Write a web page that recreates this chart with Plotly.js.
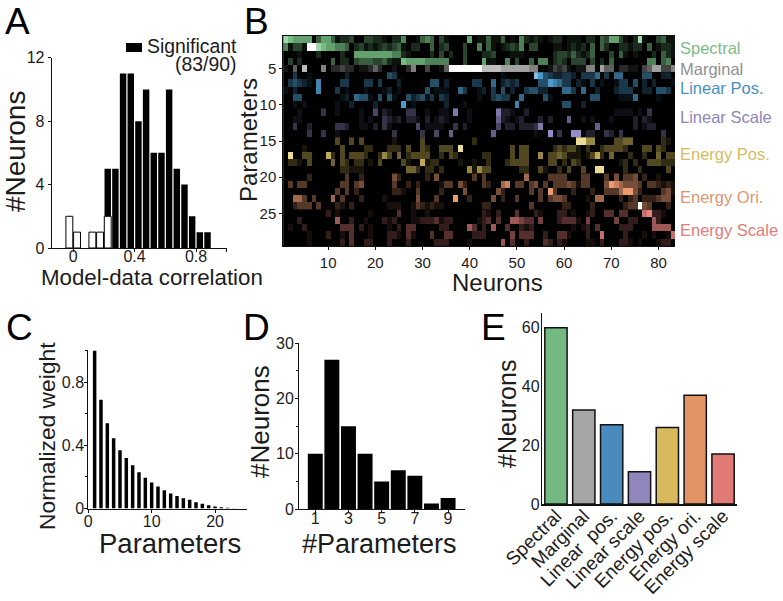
<!DOCTYPE html>
<html><head><meta charset="utf-8">
<script src="https://cdn.plot.ly/plotly-3.0.1.min.js"></script>
<style>html,body{margin:0;padding:0;background:#fff}</style></head>
<body><div id="chart" style="width:783px;height:601px"></div>
<script>
// Panel A
const corrBins=[0.225,0.275,0.325,0.375,0.425,0.475,0.525,0.575,0.625,0.675,0.725,0.775,0.825,0.875];
const corrSig=[5,5,11,11,8,10,6,6,10,5,4,2,1,1];
const corrBinsNS=[-0.025,0.025,0.125,0.175,0.225];
const corrNS=[2,1,1,1,2];
// Panel C
const weightX=[1,2,3,4,5,6,7,8,9,10,11,12,13,14,15,16,17,18,19,20,21,22,23];
const weightY=[1,.69,.54,.445,.37,.32,.275,.23,.195,.165,.14,.115,.095,.08,.065,.055,.04,.03,.02,.012,.008,.005,.002];
// Panel D
const nParams=[1,2,3,4,5,6,7,8,9];
const nParamNeurons=[10,27,15,10,5,7,6,1,2];
// Panel E
const catNames=["Spectral","Marginal","Linear\u00a0\u00a0pos.","Linear scale","Energy pos.","Energy ori.","Energy scale"];
const catCounts=[60,32,27,11,26,37,17];
const catColors=["#74b981","#a5a5a5","#4a8bbd","#9186bc","#d9b95e","#e39467","#e17a75"];
// Panel B: weight level (0-9) per parameter row, per neuron, read in four column blocks
const block1=["876666046641223003322","513319987665540231212","000100020000200666666","030200000040220344433","104070005022322011242","003001000000020000000","034321060000330003303","102000060003010001000","004400000000120544104","001010000001002000020","000100003001000010040","001100000000000010100","003002000003320011020","000003003001000000000","000000000003003030000","000010000000300002200","080033000620303332002","022103000040320220103","000000000000221110000","000002000000030020000","030330000000330340000","000000000003030200000","005530300050300020000","002333030002102000000","000000000201000000100","000200000005002001000","010020000000333020100","000001000200103000100","000001000000203002200"];
const block2=["102250014540310000601","323410220040230003005","665521000020302003000","421176666555550003000","001002500300149999999","043000000000000000000","000200000044020000033","120100000401110053001","041004234130320000001","000070100000020001000","210003300100110600100","321202210201210000100","310000040111100302000","003000003004005000000","001000003000000000020","022203003200333080000","530402333300203200000","000031006122000010010","000004420220200000515","004200000204000000030","003002020000133042000","002210030000200004000","100000040003000700200","011100132121100000000","000300100100000000000","212000112223122000001","010203300000220000530","022103100030033000022","020002000002220000100"];
const block3=["141140105212101220111","041012325033000110121","223000111000000233242","611005030040550232033","777766666655001323101","000010000008743223320","005023230000447653302","203040200344220005530","003433005000041000000","000000060000000004400","000622100200000000000","000521012000202000500","000402202223600000000","005000000001007030077","000000000000000000008","000000303300000232331","220000303300503343111","020002333300003302032","330000002200310020300","300000000500003333000","320056033034030333431","000420000030307300020","004020030000303443000","220000000030000002200","210200030002100022010","230300554330400023331","205003002120000000010","200000403330020033100","000050300200032021000"];
const block4=["02204366310281003411","20404200221220401221","12400030410100020421","30302040000000550450","15506440221103466335","33350305500004400220","10301001330402020001","50020002333002204430","00440000111500001000","20000000000000000000","00000001111010300000","10100010000202100000","00050000000201220000","02200320300000000300","85500003344000000210","02002333320003303200","01362040002002004033","00000000120200333222","30088000020020000030","33000304033402001000","33000476544430332121","00200333577420000341","01055000202302223440","00200000023394300020","01200330330006722100","04000004002200052000","12030000222000055550","02006000020001010016","01102000221010001220"];
// Row ranges of each parameter group (first, last)
const groupRows=[[1,4],[5,5],[6,10],[11,14],[15,19],[20,24],[25,29]];
const groupRgb=[[116,190,130],[190,190,190],[74,155,205],[150,140,200],[225,200,95],[235,155,110],[232,130,125]];
const groupLabels=["Spectral","Marginal","Linear Pos.","Linear Scale","Energy Pos.","Energy Ori.","Energy Scale"];
const groupLabelColors=["#7dbb88","#8f8f8f","#4a8fbc","#8f86b8","#d8bb60","#e09670","#e07d78"];
const labelY=[48,69,88,117,154,197,230];
const levelGain=[0,.1,.22,.36,.5,.68,.85,1];

const W=783,H=601;
const dx=(a,b)=>[a/W,b/W];
const dy=(t,b)=>[1-b/H,1-t/H];
const ink="#1c1c1c";
const tickFont={family:"Liberation Sans, Arial, sans-serif",size:16,color:ink};
const base={showgrid:false,zeroline:false,showline:true,linecolor:"#111",linewidth:1,tickcolor:"#111",tickwidth:1,ticklen:3,ticks:"outside",tickfont:tickFont,automargin:false,fixedrange:true};

const neurons=[];for(let i=1;i<=83;i++)neurons.push(i);
const matrix=block1.map((r,i)=>(r.padEnd(21,"0").slice(0,21)+block2[i].padEnd(21,"0").slice(0,21)+block3[i].padEnd(21,"0").slice(0,21)+block4[i].padEnd(20,"0").slice(0,20)).split("").map(Number));

const data=[];
groupRows.forEach((g,k)=>{
  const rows=[];for(let r=g[0];r<=g[1];r++)rows.push(r);
  const c=groupRgb[k];
  const scale=levelGain.map((f,i)=>[i/9,`rgb(${c.map(v=>Math.round(v*f))})`]);
  scale.push([8/9,`rgb(${c.map(v=>Math.round(v+(255-v)*.35))})`],[1,"rgb(255,255,255)"]);
  data.push({type:"heatmap",xaxis:"x2",yaxis:"y2",x:neurons,y:rows,z:rows.map(r=>matrix[r-1]),zmin:0,zmax:9,showscale:false,hoverinfo:"skip",colorscale:scale});
});
data.push({type:"bar",xaxis:"x",yaxis:"y",x:corrBins,y:corrSig,width:0.042,marker:{color:"#000",line:{width:0}},showlegend:false});
data.push({type:"bar",xaxis:"x",yaxis:"y",x:corrBinsNS,y:corrNS,width:0.045,marker:{color:"#fff",line:{color:"#000",width:1}},showlegend:false});
data.push({type:"bar",xaxis:"x3",yaxis:"y3",x:weightX,y:weightY,width:0.55,marker:{color:"#000",line:{width:0}},showlegend:false});
data.push({type:"bar",xaxis:"x4",yaxis:"y4",x:nParams,y:nParamNeurons,width:0.9,marker:{color:"#000",line:{width:0}},showlegend:false});
data.push({type:"bar",xaxis:"x5",yaxis:"y5",x:catNames,y:catCounts,width:0.8,marker:{color:catColors,line:{color:"#111",width:1.5}},showlegend:false});

const ann=[];
function txt(text,x,y,size,o={}){ann.push(Object.assign({text,x:x/W,y:1-y/H,xref:"paper",yref:"paper",showarrow:false,xanchor:"center",yanchor:"middle",
  font:{family:"Liberation Sans, Arial, sans-serif",size,color:o.color||ink},textangle:o.angle||0},o.extra||{}));}
[["A",17,22],["B",256,22],["C",19,327],["D",256.5,327],["E",493,327]].forEach(l=>txt(l[0],l[1],l[2],37,{color:"#000"}));
txt("#Neurons",15,152,28,{angle:-90});
txt("Model-data correlation",152,277,22.3);
txt("Significant",191.5,46,19.4);
txt("(83/90)",205,64,19.4);
txt("Parameters",248,140,24,{angle:-90});
txt("Neurons",497,282,24);
groupLabels.forEach((t,i)=>txt(t,677.5,labelY[i],16.5,{color:groupLabelColors[i],extra:{xanchor:"left"}}));
txt("Normalized weight",47,436,22.8,{angle:-90});
txt("Parameters",170,543,27.5);
txt("#Neurons",260,422,26,{angle:-90});
txt("#Parameters",379,544,27);
txt("#Neurons",507,414,25,{angle:-90});

const layout={width:W,height:H,margin:{l:0,r:0,t:0,b:0},paper_bgcolor:"#fff",plot_bgcolor:"rgba(0,0,0,0)",showlegend:false,barmode:"overlay",annotations:ann,
 shapes:[{type:"rect",xref:"paper",yref:"paper",x0:126/W,x1:142/W,y0:1-52/H,y1:1-43/H,fillcolor:"#000",line:{width:0}},
         {type:"rect",xref:"x2 domain",yref:"y2 domain",x0:0,x1:1,y0:0,y1:1,fillcolor:"#000",line:{width:0},layer:"below"}],
 xaxis:Object.assign({},base,{domain:dx(51.7,226.7),range:[-0.14,1],anchor:"y",tickvals:[0,.4,.8,1],ticktext:["0","0.4","0.8",""],ticklabelstandoff:-9}),
 yaxis:Object.assign({},base,{domain:dy(57.7,248),range:[0,12],anchor:"x",tickvals:[0,4,8,12]}),
 xaxis2:Object.assign({},base,{domain:dx(283.3,675),range:[0.5,83.5],anchor:"y2",tickvals:[10,20,30,40,50,60,70,80],mirror:true,tickfont:Object.assign({},tickFont,{size:15})}),
 yaxis2:Object.assign({},base,{domain:dy(36,246),range:[29.5,0.5],anchor:"x2",tickvals:[5,10,15,20,25],tickfont:Object.assign({},tickFont,{size:15})}),
 xaxis3:Object.assign({},base,{domain:dx(88.3,246.7),range:[0,25],anchor:"y3",tickvals:[0,10,20],ticklabelstandoff:-5}),
 yaxis3:Object.assign({},base,{domain:dy(350,508.5),range:[0,1.005],anchor:"x3",tickvals:[0,.4,.8],ticktext:["0","0.4","0.8"],ticklabelstandoff:-3,minor:{tickvals:[.2,.6,1],ticks:"outside",ticklen:2,tickcolor:"#111"}}),
 xaxis4:Object.assign({},base,{domain:dx(299,464.5),range:[0.02,9.99],anchor:"y4",tickvals:[1,3,5,7,9],ticklabelstandoff:-8}),
 yaxis4:Object.assign({},base,{domain:dy(343.3,509),range:[0,30],anchor:"x4",tickvals:[0,10,20,30],ticklabelstandoff:-2,minor:{tickvals:[5,15,25],ticks:"outside",ticklen:2,tickcolor:"#111"}}),
 xaxis5:Object.assign({},base,{domain:dx(542.3,736.7),range:[-0.49,6.49],anchor:"y5",type:"category",categoryorder:"array",categoryarray:catNames,tickangle:-45,ticks:"",linewidth:1.5,ticklabelstandoff:-8,tickfont:Object.assign({},tickFont,{size:19})}),
 yaxis5:Object.assign({},base,{domain:dy(313,504),range:[0,65],anchor:"x5",tickvals:[0,20,40,60],ticks:"",linewidth:1.5,ticklabelstandoff:-2})
};
Plotly.newPlot("chart",data,layout,{displayModeBar:false,staticPlot:true});
</script></body></html>
